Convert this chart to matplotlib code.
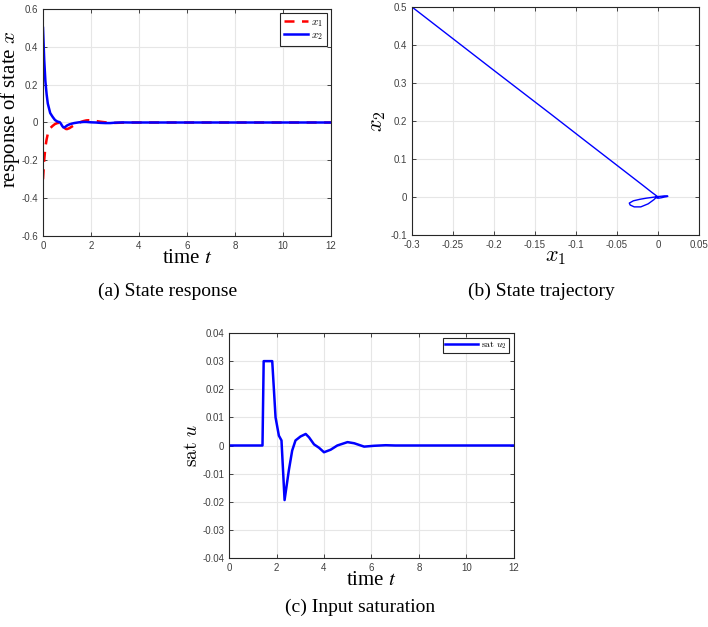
import numpy as np
import matplotlib
matplotlib.use("Agg")
import matplotlib.pyplot as plt

plt.rcParams['mathtext.fontset'] = 'cm'
plt.rcParams['font.family'] = ['Liberation Sans', 'DejaVu Sans']

# ---- data: state response ----
t_state = [0.0, 0.05, 0.1, 0.15, 0.2, 0.3, 0.4, 0.5, 0.6, 0.7, 0.75, 0.8, 0.85, 0.9,
           0.95, 1.0, 1.1, 1.2, 1.3, 1.4, 1.5, 1.6, 1.7, 1.8, 1.9, 2.0, 2.2, 2.4,
           2.6, 2.8, 3.0, 3.3, 3.6, 4.0, 6.0, 8.0, 10.0, 12.0]
x1 = [-0.3, -0.2, -0.13, -0.09, -0.06, -0.03, -0.018, -0.008, -0.003, -0.001, -0.005,
      -0.012, -0.021, -0.029, -0.034, -0.035, -0.03, -0.022, -0.014, -0.007, -0.001,
      0.004, 0.008, 0.011, 0.012, 0.011, 0.008, 0.004, 0.001, -0.001, -0.002, -0.001,
      0.0, 0.0, 0.0, 0.0, 0.0, 0.0]
x2 = [0.5, 0.333, 0.217, 0.15, 0.1, 0.05, 0.03, 0.013, 0.005, 0.0015, -0.007,
      -0.018, -0.026, -0.026, -0.021, -0.016, -0.010, -0.006, -0.003, -0.001, 0.001,
      0.002, 0.003, 0.003, 0.002, 0.001, 0.0, -0.002, -0.003, -0.003, -0.001, 0.0005,
      0.0, 0.0, 0.0, 0.0, 0.0, 0.0]

# ---- data: input saturation ----
t_u = [0.0, 1.41, 1.46, 1.82, 1.96, 2.1, 2.21, 2.34, 2.52, 2.66, 2.8, 3.01, 3.23,
       3.37, 3.58, 3.79, 4.0, 4.28, 4.56, 4.99, 5.27, 5.69, 6.11, 6.6, 7.0, 12.0]
u2 = [0.0, 0.0, 0.03, 0.03, 0.010, 0.0035, 0.0018, -0.0194, -0.0088, -0.0018,
      0.0018, 0.0032, 0.0041, 0.0029, 0.0004, -0.0008, -0.0024, -0.0015, 0.0,
      0.0012, 0.0008, -0.0004, -0.0001, 0.0001, 0.0, 0.0]

W, H = 708, 627
fig = plt.figure(figsize=(W / 100, H / 100), dpi=100)

def box(l, t, r, b):
    return [l / W, 1 - b / H, (r - l) / W, (b - t) / H]

def style(ax):
    ax.grid(True, color='#e6e6e6', linewidth=0.8)
    ax.set_axisbelow(True)
    ax.tick_params(direction='in', top=True, right=True, labelsize=7,
                   colors='#262626', labelcolor='#404040', length=3, width=0.6)
    for s in ax.spines.values():
        s.set_color('#262626')
        s.set_linewidth(0.8)

serif = ['Liberation Serif']

# (a)
axa = fig.add_axes(box(43, 9, 331, 236))
axa.plot(t_state, x1, '--', color='#ff0000', lw=1.8, label=r'$x_1$', dashes=(4, 3))
axa.plot(t_state, x2, '-', color='#0000ff', lw=1.8, label=r'$x_2$')
axa.set_xlim(0, 12)
axa.set_ylim(-0.6, 0.6)
axa.set_xticks(np.arange(0, 13, 2))
axa.set_yticks(np.arange(-0.6, 0.61, 0.2))
axa.set_yticklabels(['-0.6', '-0.4', '-0.2', '0', '0.2', '0.4', '0.6'])
style(axa)
axa.set_xlabel(r'time $t$', labelpad=-1, fontsize=15, family=serif, math_fontfamily='stix')
axa.set_ylabel(r'response of state $x$', fontsize=15, family=serif)
axa.yaxis.set_label_coords((22 - 43) / 288, (236 - 109) / 227)
lg = axa.legend(loc='upper right', fontsize=8, fancybox=False, framealpha=1,
                edgecolor='#262626', handlelength=2.2, borderpad=0.3, labelspacing=0.15,
                handletextpad=0.3, borderaxespad=0.4)
lg.get_frame().set_linewidth(0.8)

# (b)
axb = fig.add_axes(box(412, 7, 699, 235))
axb.plot(x1, x2, '-', color='#0000ff', lw=1.0)
axb.set_xlim(-0.3, 0.05)
axb.set_ylim(-0.1, 0.5)
axb.set_xticks(np.arange(-0.3, 0.051, 0.05))
axb.set_xticklabels(['-0.3', '-0.25', '-0.2', '-0.15', '-0.1', '-0.05', '0', '0.05'])
axb.set_yticks(np.arange(-0.1, 0.51, 0.1))
axb.set_yticklabels(['-0.1', '0', '0.1', '0.2', '0.3', '0.4', '0.5'])
style(axb)
axb.set_xlabel(r'$x_1$', labelpad=-3, fontsize=16)
axb.set_ylabel(r'$x_2$', labelpad=2, fontsize=16)

# (c)
axc = fig.add_axes(box(229, 333, 514, 558))
axc.plot(t_u, u2, '-', color='#0000ff', lw=1.8, label=r'$\mathrm{sat}\ u_2$')
axc.set_xlim(0, 12)
axc.set_ylim(-0.04, 0.04)
axc.set_xticks(np.arange(0, 13, 2))
axc.set_yticks(np.arange(-0.04, 0.041, 0.01))
axc.set_yticklabels(['-0.04', '-0.03', '-0.02', '-0.01', '0', '0.01', '0.02', '0.03', '0.04'])
style(axc)
axc.set_xlabel(r'time $t$', labelpad=-1, fontsize=15, family=serif, math_fontfamily='stix')
axc.set_ylabel(r'$\mathrm{sat}\ u$', labelpad=1, fontsize=14)
lg = axc.legend(loc='upper right', fontsize=7, fancybox=False, framealpha=1,
                edgecolor='#262626', handlelength=3.4, borderpad=0.2,
                handletextpad=0.3, borderaxespad=0.5)
lg.get_frame().set_linewidth(0.8)

cap_kw = dict(fontsize=14, family=serif, ha='center', va='center')
fig.text(168 / W, 1 - 291 / H, '(a) State response', **cap_kw)
fig.text(541 / W, 1 - 291 / H, '(b) State trajectory', **cap_kw)
fig.text(360 / W, 1 - 607 / H, '(c) Input saturation', **cap_kw)

fig.savefig('out.png', dpi=100)
